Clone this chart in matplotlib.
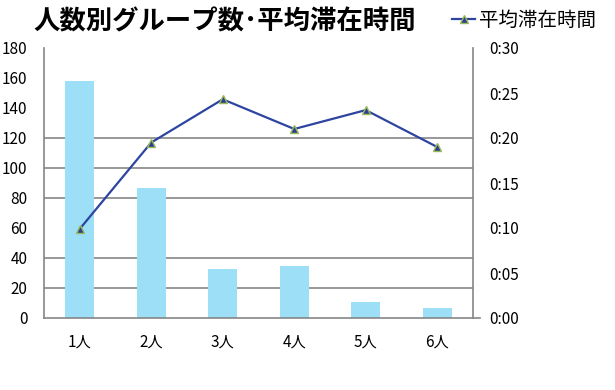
import matplotlib.pyplot as plt
from matplotlib.lines import Line2D

plt.rcParams['font.family'] = ['Noto Sans CJK JP', 'DejaVu Sans']

categories = ["1人", "2人", "3人", "4人", "5人", "6人"]
group_counts = [158, 87, 33, 35, 11, 7]
# average stay in minutes
stay_minutes = [9.9, 19.5, 24.3, 21.0, 23.1, 19.0]
count_ticks = [0, 20, 40, 60, 80, 100, 120, 140, 160, 180]
grid_values = [20, 40, 80, 100, 120]
time_ticks = [0, 5, 10, 15, 20, 25, 30]
time_labels = ["0:%02d" % m for m in time_ticks]

title = "人数別グループ数･平均滞在時間"
line_name = "平均滞在時間"

grey = "#868686"

fig = plt.figure(figsize=(6.15, 3.9), dpi=100)
ax = fig.add_axes([44 / 615, 72 / 390, 429 / 615, 270 / 390])
x = list(range(len(categories)))

for g in grid_values:
    ax.axhline(g, color=grey, lw=1.2, zorder=0)
ax.bar(x, group_counts, width=0.41, color="#9DDFF6", zorder=1)

ax.set_xlim(-0.5, len(categories) - 0.5)
ax.set_ylim(0, 180)
ax.set_yticks(count_ticks)
ax.tick_params(axis="y", length=0, pad=12, labelsize=11)
ax.set_xticks(x)
ax.set_xticklabels(categories)
ax.tick_params(axis="x", length=0, pad=11, labelsize=11)

for s in ["top", "right"]:
    ax.spines[s].set_visible(False)
ax.spines["left"].set_color(grey)
ax.spines["left"].set_linewidth(1.2)
ax.spines["bottom"].set_visible(False)
ax.add_line(Line2D([0, 1 + 7 / 429], [0, 0], transform=ax.transAxes,
                   color=grey, lw=1.2, clip_on=False, zorder=3))

ax2 = ax.twinx()
ax2.plot(x, stay_minutes, color="#2D45A0", lw=1.6, marker="^", markersize=6,
         markerfacecolor="#2E3F8F", markeredgecolor="#9BBB59", markeredgewidth=1,
         label=line_name, zorder=4)
ax2.set_ylim(0, 30)
ax2.set_yticks(time_ticks)
ax2.set_yticklabels(time_labels)
ax2.tick_params(axis="y", length=0, pad=12, labelsize=11)
ax2.set_yticks([15, 20, 25], minor=True)
ax2.tick_params(axis="y", which="minor", length=4, color=grey, width=1)
for s in ["top", "left", "bottom"]:
    ax2.spines[s].set_visible(False)
ax2.spines["right"].set_color(grey)
ax2.spines["right"].set_linewidth(1.2)

fig.text(33 / 615, 1 - 22 / 390, title, fontsize=19, fontweight="bold",
         va="center", ha="left")
fig.legend(loc="center left", bbox_to_anchor=(452 / 615, 1 - 20 / 390),
           frameon=False, fontsize=14, handlelength=1.2, handletextpad=0.2,
           borderaxespad=0, borderpad=0)

fig.savefig("out.png", dpi=100)
